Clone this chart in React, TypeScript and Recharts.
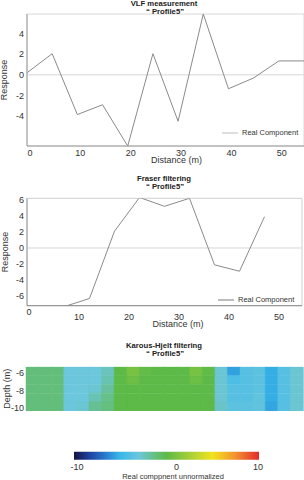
import {
  LineChart,
  Line,
  BarChart,
  Bar,
  Cell,
  XAxis,
  YAxis,
  ReferenceLine,
  ReferenceArea,
} from "recharts";

const FONT = "'Liberation Sans', Arial, sans-serif";

// VLF measurement
const vlfDistance = [0, 5, 10, 15, 20, 25, 30, 35, 40, 45, 50, 55];
const vlfResponse = [0.2, 2.05, -3.85, -2.9, -6.9, 2.05, -4.5, 5.9, -1.35, -0.3, 1.35, 1.35];

// Fraser filtering
const fraserDistance = [7.5, 12.5, 17.5, 22.5, 27.5, 32.5, 37.5, 42.5, 47.5];
const fraserResponse = [-7.3, -6.3, 2.1, 6.3, 5.2, 6.2, -2.1, -2.9, 3.9];

const distanceTicks = [0, 10, 20, 30, 40, 50];
const vlfTicks = [-4, -2, 0, 2, 4];
const fraserTicks = [-6, -4, -2, 0, 2, 4, 6];
const depthTicks = [-6, -8, -10];
const colorbarTicks = [-10, 0, 10];

// Karous-Hjelt section: columns of 2.5 m, rows from top to bottom
const khColumns = [0, 2.5, 5, 7.5, 10, 12.5, 15, 17.5, 20, 22.5, 25, 27.5, 30, 32.5, 35, 37.5, 40, 42.5, 45, 47.5, 50, 52.5];
const khRowBounds = [-5.28, -6.3, -7.3, -8.3, -9.3, -10.34];
const khRow0 = [-1.1, -1.1, -1.1, -3.0, -3.0, -3.0, -2.4, 0.0, 0.9, 0.2, 0.0, 0.0, 0.0, 0.9, 0.1, -2.8, -5.6, -3.8, -3.6, -5.3, -3.8, -2.8];
const khRow1 = [-1.1, -1.1, -1.1, -3.0, -3.0, -3.0, -2.2, 0.0, 0.5, 0.0, 0.0, 0.0, 0.0, 0.5, 0.0, -2.8, -4.2, -3.8, -3.6, -5.3, -3.8, -2.8];
const khRow2 = [-1.1, -1.1, -1.1, -3.0, -3.0, -2.8, -1.8, 0.0, 0.0, 0.0, 0.0, 0.0, 0.0, 0.0, 0.0, -2.8, -3.8, -3.8, -3.6, -5.3, -3.8, -2.8];
const khRow3 = [-1.1, -1.1, -1.1, -3.0, -3.0, -2.2, -1.4, 0.0, 0.0, 0.0, 0.0, 0.0, 0.0, 0.0, 0.0, -2.8, -3.8, -3.8, -3.4, -5.3, -3.8, -2.8];
const khRow4 = [-1.1, -1.1, -1.1, -3.0, -2.8, -1.6, -1.2, 0.0, 0.0, 0.0, 0.0, 0.0, 0.0, 0.0, 0.0, -2.6, -3.6, -3.6, -3.4, -5.5, -3.8, -2.8];
const khRows = [khRow0, khRow1, khRow2, khRow3, khRow4];

// colour scale (value -> colour)
const scaleValues = [-10, -8.5, -6.5, -5, -3, -1.5, 0, 2.5, 5, 7.5, 10];
const scaleColors = ["#141442", "#1d3c9a", "#2a7fd0", "#38b8ea", "#6cc6dc", "#66c08e", "#5dba48", "#a6cf38", "#f2e31e", "#f28f2e", "#e32b2b"];

const hexToRgb = (h: string) => [1, 3, 5].map((i) => parseInt(h.slice(i, i + 2), 16));

const colorFor = (v: number) => {
  if (v <= scaleValues[0]) return scaleColors[0];
  for (let i = 1; i < scaleValues.length; i++) {
    if (v <= scaleValues[i]) {
      const t = (v - scaleValues[i - 1]) / (scaleValues[i] - scaleValues[i - 1]);
      const a = hexToRgb(scaleColors[i - 1]);
      const b = hexToRgb(scaleColors[i]);
      const c = a.map((x, k) => Math.round(x + (b[k] - x) * t));
      return `rgb(${c[0]},${c[1]},${c[2]})`;
    }
  }
  return scaleColors[scaleColors.length - 1];
};

const vlfData = vlfDistance.map((d, i) => ({ d, r: vlfResponse[i] }));
const fraserData = fraserDistance.map((d, i) => ({ d, r: fraserResponse[i] }));

const khData = khColumns.map((c) => {
  const row: Record<string, number | string> = { col: String(c), base: khRowBounds[0] };
  khRows.forEach((_, i) => {
    row[`s${i}`] = khRowBounds[i + 1] - khRowBounds[i];
  });
  return row;
});

const colorbarData = [{ name: "cb", range: [colorbarTicks[0], colorbarTicks[2]] }];

const tickStyle = { fontSize: 9, fill: "#333", fontFamily: FONT };
const labelStyle = { fontSize: 9, fill: "#333", fontFamily: FONT };

const DistTick = (props: any) => {
  const { x, y, payload, lift = 0, shift = 2 } = props;
  return (
    <text x={x + shift} y={y - lift} dy="0.71em" textAnchor="middle" fontSize={9} fill="#333" fontFamily={FONT}>
      {payload.value}
    </text>
  );
};

const LegendItem = ({ left, top, color }: { left: number; top: number; color: string }) => (
  <div style={{ position: "absolute", left, top, display: "flex", alignItems: "center", fontSize: 7.5, color: "#333", lineHeight: "10px" }}>
    <svg width={20} height={10}>
      <line x1={0} x2={16} y1={5} y2={5} stroke={color} strokeWidth={1} />
    </svg>
    <span>Real Component</span>
  </div>
);

const Title = ({ y, text, sub }: { y: number; text: string; sub: string }) => (
  <>
    <text x={164} y={y} textAnchor="middle" fontSize={7.7} fontWeight="bold" fill="#222" fontFamily={FONT}>
      {text}
    </text>
    <text x={165} y={y + 8} textAnchor="middle" fontSize={7.7} fontWeight="bold" fill="#222" fontFamily={FONT}>
      {sub}
    </text>
  </>
);

export default function App() {
  return (
    <div style={{ position: "absolute", left: 0, top: 0, width: 304, height: 480, background: "#fff", fontFamily: FONT, overflow: "hidden" }}>
      {/* VLF measurement */}
      <div style={{ position: "absolute", left: 0, top: 0 }}>
        <LineChart width={304} height={166} data={vlfData} margin={{ top: 14, right: 0, bottom: 0, left: 0 }}>
          <ReferenceArea x1={0} x2={55} y1={-6.9} y2={5.9} fill="none" stroke="#d8d8d8" ifOverflow="visible" />
          <XAxis
            dataKey="d"
            type="number"
            domain={[0, 55]}
            ticks={distanceTicks}
            allowDataOverflow
            height={20}
            tickLine={false}
            tickSize={0}
            tickMargin={4}
            axisLine={{ stroke: "#9a9a9a" }}
            tick={<DistTick shift={3} />}
            label={{ value: "Distance (m)", position: "insideBottom", offset: 3, dx: 11, style: labelStyle }}
          />
          <YAxis
            type="number"
            domain={[-6.9, 5.9]}
            ticks={vlfTicks}
            allowDataOverflow
            width={27}
            tickLine={false}
            tickSize={0}
            tickMargin={3}
            axisLine={{ stroke: "#9a9a9a" }}
            tick={tickStyle}
            label={{ value: "Response", angle: -90, position: "center", dx: -10, style: labelStyle }}
          />
          <ReferenceLine y={0} stroke="#d6d6d6" />
          <Line dataKey="r" stroke="#8a8a8a" strokeWidth={1} dot={false} isAnimationActive={false} />
        </LineChart>
      </div>

      {/* Fraser filtering */}
      <div style={{ position: "absolute", left: 0, top: 190 }}>
        <LineChart width={304} height={140} data={fraserData} margin={{ top: 8.3, right: 2, bottom: 0, left: 0 }}>
          <ReferenceArea x1={0} x2={55} y1={-7.2} y2={6.2} fill="none" stroke="#d0d0d0" ifOverflow="visible" />
          <XAxis
            dataKey="d"
            type="number"
            domain={[0, 55]}
            ticks={distanceTicks}
            allowDataOverflow
            height={24.3}
            tickLine={false}
            tickSize={0}
            tickMargin={7.5}
            axisLine={{ stroke: "#8a8a8a" }}
            tick={(p: any) => <DistTick {...p} shift={2} lift={p.payload.value === 0 ? 5 : 0} />}
            label={{ value: "Distance (m)", position: "insideBottom", offset: 3, dx: 13.5, style: labelStyle }}
          />
          <YAxis
            type="number"
            domain={[-7.2, 6.2]}
            ticks={fraserTicks}
            allowDataOverflow
            width={27}
            tickLine={false}
            tickSize={0}
            tickMargin={3}
            axisLine={{ stroke: "#9a9a9a" }}
            tick={tickStyle}
            label={{ value: "Response", angle: -90, position: "center", dx: -9, style: labelStyle }}
          />
          <ReferenceLine y={0} stroke="#d6d6d6" />
          <Line dataKey="r" stroke="#8a8a8a" strokeWidth={1} dot={false} isAnimationActive={false} />
        </LineChart>
      </div>

      {/* Karous-Hjelt filtering */}
      <div style={{ position: "absolute", left: 0, top: 360 }}>
        <BarChart width={304} height={72} data={khData} margin={{ top: 6.7, right: 1, bottom: 0, left: 0 }} barCategoryGap={0} barGap={0}>
          <XAxis xAxisId="cat" dataKey="col" hide />
          <XAxis
            xAxisId="num"
            type="number"
            domain={[0, 55]}
            ticks={distanceTicks}
            allowDataOverflow
            height={21}
            tickLine={false}
            tickSize={0}
            tickMargin={5.8}
            axisLine={false}
            tick={<DistTick shift={2} />}
            label={{ value: "Distance (m)", position: "insideBottom", offset: 2, dx: 8.5, style: labelStyle }}
          />
          <YAxis
            type="number"
            domain={[khRowBounds[khRowBounds.length - 1], khRowBounds[0]]}
            ticks={depthTicks}
            allowDataOverflow
            width={26}
            tickLine={false}
            tickSize={0}
            tickMargin={2}
            axisLine={false}
            tick={tickStyle}
            label={{ value: "Depth (m)", angle: -90, position: "center", dx: -6, style: labelStyle }}
          />
          <ReferenceLine xAxisId="num" x={0} stroke="none" />
          <Bar xAxisId="cat" dataKey="base" stackId="k" fill="none" isAnimationActive={false} />
          {khRows.map((row, i) => (
            <Bar key={i} xAxisId="cat" dataKey={`s${i}`} stackId="k" isAnimationActive={false}>
              {row.map((v, j) => (
                <Cell key={j} fill={colorFor(v)} stroke={colorFor(v)} strokeWidth={0.5} />
              ))}
            </Bar>
          ))}
        </BarChart>
      </div>

      {/* colour bar */}
      <div style={{ position: "absolute", left: 0, top: 445 }}>
        <BarChart
          width={304}
          height={35}
          layout="vertical"
          data={colorbarData}
          margin={{ top: 6.7, right: 45, bottom: 0, left: 74 }}
          barCategoryGap={0}
        >
          <defs>
            <linearGradient id="khGradient" x1="0" y1="0" x2="1" y2="0">
              {scaleValues.map((v, i) => (
                <stop key={i} offset={`${((v + 10) / 20) * 100}%`} stopColor={scaleColors[i]} />
              ))}
            </linearGradient>
          </defs>
          <XAxis
            type="number"
            domain={[colorbarTicks[0], colorbarTicks[2]]}
            ticks={colorbarTicks}
            height={20}
            tickLine={false}
            tickSize={0}
            tickMargin={4}
            axisLine={false}
            tick={(p: any) => <DistTick {...p} shift={p.payload.value === 0 ? 10 : p.payload.value < 0 ? 3 : -1} />}
            label={{ value: "Real comppnent unnormalized", position: "insideBottom", offset: 1, dx: 6.5, style: { ...labelStyle, fontSize: 7.5 } }}
          />
          <YAxis type="category" dataKey="name" hide />
          <Bar dataKey="range" fill="url(#khGradient)" isAnimationActive={false} />
        </BarChart>
      </div>

      {/* titles */}
      <svg width={304} height={480} style={{ position: "absolute", left: 0, top: 0, pointerEvents: "none" }}>
        <Title y={5.7} text="VLF measurement" sub="“ Profile5”" />
        <Title y={181} text="Fraser filtering" sub="“ Profile5”" />
        <Title y={348} text="Karous-Hjelt filtering" sub="“ Profile5”" />
      </svg>

      <LegendItem left={222} top={128} color="#bdbdbd" />
      <LegendItem left={218} top={295} color="#7a7a7a" />
    </div>
  );
}
